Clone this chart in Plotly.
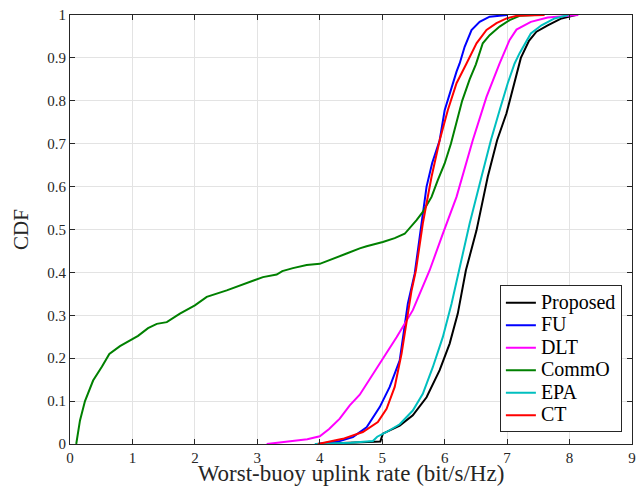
import plotly.graph_objects as go

# ---- data (x: rate in bit/s/Hz, y: CDF) ----
proposed_x = [3.95, 4.5, 4.97, 4.99, 5.01, 5.28, 5.49, 5.71, 5.92, 6.08, 6.21, 6.34, 6.51, 6.69, 6.84, 6.99, 7.12, 7.22, 7.35, 7.47, 7.65, 7.87, 8.1]
proposed_y = [0, 0.003, 0.006, 0.015, 0.024, 0.043, 0.067, 0.109, 0.172, 0.234, 0.304, 0.405, 0.498, 0.623, 0.708, 0.771, 0.845, 0.90, 0.94, 0.961, 0.976, 0.992, 1.0]

fu_x = [3.97, 4.32, 4.53, 4.75, 4.96, 5.12, 5.28, 5.41, 5.52, 5.63, 5.71, 5.80, 5.92, 6.0, 6.11, 6.19, 6.24, 6.32, 6.43, 6.56, 6.72, 7.0]
fu_y = [0, 0.007, 0.016, 0.039, 0.086, 0.133, 0.195, 0.327, 0.397, 0.514, 0.6, 0.655, 0.708, 0.778, 0.833, 0.868, 0.887, 0.926, 0.965, 0.984, 0.996, 1.0]

dlt_x = [3.15, 3.57, 3.8, 4.0, 4.15, 4.32, 4.48, 4.64, 4.96, 5.23, 5.49, 5.76, 5.97, 6.19, 6.45, 6.67, 6.88, 7.04, 7.15, 7.38, 7.65, 8.14]
dlt_y = [0, 0.007, 0.011, 0.018, 0.035, 0.059, 0.09, 0.115, 0.187, 0.249, 0.312, 0.405, 0.49, 0.576, 0.708, 0.809, 0.887, 0.942, 0.966, 0.984, 0.994, 1.0]

commo_x = [0.10, 0.16, 0.24, 0.37, 0.51, 0.63, 0.80, 0.99, 1.09, 1.25, 1.39, 1.55, 1.76, 2.0, 2.19, 2.51, 2.83, 3.09, 3.31, 3.40, 3.57, 3.79, 4.0, 4.27, 4.43, 4.64, 4.75, 5.01, 5.20, 5.36, 5.45, 5.55, 5.65, 5.79, 5.89, 6.0, 6.10, 6.28, 6.40, 6.50, 6.61, 6.72, 6.88, 7.04, 7.2, 7.44]
commo_y = [0, 0.055, 0.10, 0.148, 0.18, 0.21, 0.228, 0.245, 0.252, 0.27, 0.28, 0.284, 0.304, 0.323, 0.343, 0.358, 0.375, 0.389, 0.395, 0.403, 0.41, 0.417, 0.42, 0.434, 0.444, 0.456, 0.461, 0.471, 0.48, 0.49, 0.505, 0.522, 0.541, 0.576, 0.615, 0.654, 0.70, 0.80, 0.85, 0.885, 0.934, 0.953, 0.973, 0.988, 0.998, 1.0]

epa_x = [3.92, 4.5, 4.85, 4.92, 5.07, 5.28, 5.49, 5.65, 5.81, 5.97, 6.11, 6.23, 6.40, 6.59, 6.74, 6.88, 7.01, 7.12, 7.2, 7.38, 7.55, 7.76, 7.98]
epa_y = [0, 0.003, 0.007, 0.017, 0.028, 0.046, 0.078, 0.117, 0.179, 0.249, 0.327, 0.405, 0.514, 0.623, 0.708, 0.778, 0.841, 0.887, 0.911, 0.957, 0.976, 0.992, 1.0]

ct_x = [3.97, 4.37, 4.69, 4.93, 5.07, 5.2, 5.31, 5.39, 5.47, 5.54, 5.65, 5.79, 5.92, 6.05, 6.19, 6.35, 6.51, 6.67, 6.83, 6.99, 7.15, 7.6]
ct_y = [0, 0.012, 0.028, 0.051, 0.082, 0.133, 0.211, 0.288, 0.358, 0.405, 0.514, 0.623, 0.708, 0.778, 0.841, 0.887, 0.934, 0.965, 0.981, 0.992, 0.998, 1.0]

series_names = ["Proposed", "FU", "DLT", "CommO", "EPA", "CT"]
series_colors = ["#000000", "#0000FF", "#FF00FF", "#008000", "#00BFBF", "#FF0000"]
series_data = [(proposed_x, proposed_y), (fu_x, fu_y), (dlt_x, dlt_y),
               (commo_x, commo_y), (epa_x, epa_y), (ct_x, ct_y)]

x_ticks = list(range(0, 10))
y_ticks = [i / 10 for i in range(11)]
y_tick_labels = ["0", "0.1", "0.2", "0.3", "0.4", "0.5", "0.6", "0.7", "0.8", "0.9", "1"]

FONT = "Liberation Serif, Times New Roman, serif"
AXC = "#262626"

fig = go.Figure()
for name, color, (xs, ys) in zip(series_names, series_colors, series_data):
    fig.add_trace(go.Scatter(
        x=xs, y=ys, mode="lines",
        name='<span style="font-size:20px">' + name + '</span>',
        line=dict(color=color, width=2)))

axis_common = dict(
    showline=True, linecolor=AXC, linewidth=1, mirror="ticks",
    ticks="inside", ticklen=5, tickcolor=AXC, tickwidth=1,
    showgrid=True, gridcolor="#e3e3e3", gridwidth=1,
    zeroline=False, automargin=False,
    tickfont=dict(family=FONT, size=15, color=AXC),
)

fig.update_layout(
    width=636, height=486,
    margin=dict(l=70, r=4, t=15, b=42),
    paper_bgcolor="white", plot_bgcolor="white",
    font=dict(family=FONT, color=AXC),
    xaxis=dict(range=[0, 9], tickvals=x_ticks,
               title=dict(text="Worst-buoy uplink rate (bit/s/Hz)",
                          font=dict(family=FONT, size=23, color=AXC), standoff=5),
               **axis_common),
    yaxis=dict(range=[0, 1], tickvals=y_ticks, ticktext=y_tick_labels,
               title=dict(text="CDF", font=dict(family=FONT, size=21, color=AXC), standoff=12),
               **axis_common),
    legend=dict(x=0.982, xanchor="right", y=0.027, yanchor="bottom",
                bgcolor="white", bordercolor=AXC, borderwidth=1,
                font=dict(family=FONT, size=15, color="#000000"),
                tracegroupgap=0, itemwidth=30),
    showlegend=True,
)

fig.write_html("out.html")
